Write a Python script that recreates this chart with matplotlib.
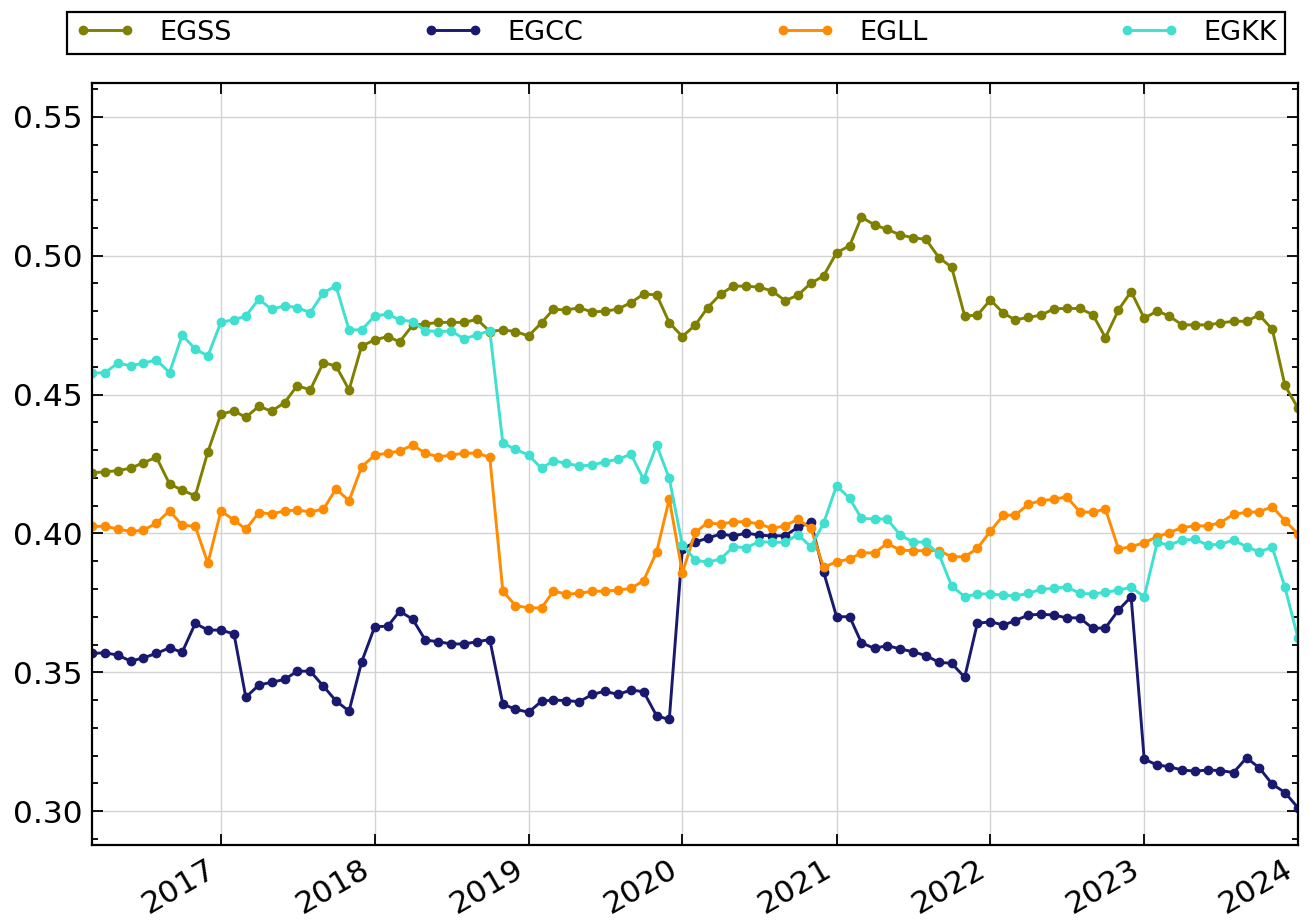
import numpy as np
import pandas as pd
import matplotlib
matplotlib.use("Agg")
import matplotlib.pyplot as plt
import matplotlib.dates as mdates
from matplotlib.ticker import MultipleLocator

# monthly dates, Mar 2016 .. Jan 2024
dates = pd.date_range("2016-03-01", "2024-01-01", freq="MS")

egss = [0.4218, 0.4222, 0.4226, 0.4235, 0.4255, 0.4274, 0.4178, 0.4156, 0.4135, 0.4294,
        0.4430, 0.4441, 0.4418, 0.4458, 0.4440, 0.4471, 0.4532, 0.4517, 0.4615, 0.4603,
        0.4517, 0.4675, 0.4697, 0.4709, 0.4690, 0.4750, 0.4754, 0.4760, 0.4760, 0.4760,
        0.4771, 0.4727, 0.4733, 0.4727, 0.4711, 0.4759, 0.4807, 0.4805, 0.4812, 0.4798,
        0.4800, 0.4808, 0.4831, 0.4862, 0.4859, 0.4759, 0.4709, 0.4751, 0.4813, 0.4862,
        0.4891, 0.4890, 0.4887, 0.4873, 0.4838, 0.4858, 0.4901, 0.4927, 0.5011, 0.5036,
        0.5139, 0.5111, 0.5095, 0.5075, 0.5065, 0.5059, 0.4993, 0.4959, 0.4783, 0.4786,
        0.4841, 0.4793, 0.4769, 0.4778, 0.4786, 0.4809, 0.4810, 0.4810, 0.4788, 0.4705,
        0.4805, 0.4871, 0.4775, 0.4801, 0.4783, 0.4751, 0.4751, 0.4751, 0.4758, 0.4764,
        0.4764, 0.4787, 0.4735, 0.4533, 0.4451]

egcc = [0.3568, 0.3570, 0.3562, 0.3540, 0.3552, 0.3568, 0.3588, 0.3572, 0.3676, 0.3652,
        0.3652, 0.3638, 0.3410, 0.3454, 0.3464, 0.3474, 0.3504, 0.3504, 0.3450, 0.3397,
        0.3360, 0.3538, 0.3664, 0.3666, 0.3720, 0.3691, 0.3616, 0.3610, 0.3602, 0.3602,
        0.3610, 0.3618, 0.3385, 0.3367, 0.3356, 0.3396, 0.3400, 0.3398, 0.3394, 0.3420,
        0.3432, 0.3420, 0.3436, 0.3430, 0.3343, 0.3330, 0.3944, 0.3969, 0.3983, 0.3998,
        0.3991, 0.4001, 0.3994, 0.3991, 0.3992, 0.4022, 0.4040, 0.3862, 0.3700, 0.3700,
        0.3606, 0.3586, 0.3596, 0.3584, 0.3574, 0.3560, 0.3536, 0.3532, 0.3482, 0.3676,
        0.3682, 0.3670, 0.3686, 0.3706, 0.3709, 0.3706, 0.3696, 0.3696, 0.3658, 0.3660,
        0.3724, 0.3772, 0.3187, 0.3166, 0.3160, 0.3148, 0.3144, 0.3148, 0.3146, 0.3139,
        0.3192, 0.3156, 0.3097, 0.3067, 0.3012]

egll = [0.4025, 0.4026, 0.4016, 0.4007, 0.4012, 0.4037, 0.4082, 0.4029, 0.4026, 0.3893,
        0.4081, 0.4048, 0.4015, 0.4075, 0.4070, 0.4081, 0.4084, 0.4078, 0.4087, 0.4160,
        0.4118, 0.4240, 0.4282, 0.4289, 0.4297, 0.4318, 0.4289, 0.4276, 0.4282, 0.4289,
        0.4289, 0.4274, 0.3792, 0.3740, 0.3732, 0.3732, 0.3792, 0.3782, 0.3784, 0.3792,
        0.3792, 0.3796, 0.3802, 0.3830, 0.3934, 0.4124, 0.3859, 0.4004, 0.4039, 0.4033,
        0.4042, 0.4042, 0.4034, 0.4018, 0.4028, 0.4051, 0.4018, 0.3878, 0.3898, 0.3908,
        0.3930, 0.3930, 0.3964, 0.3940, 0.3938, 0.3938, 0.3938, 0.3916, 0.3916, 0.3946,
        0.4008, 0.4066, 0.4066, 0.4105, 0.4118, 0.4123, 0.4132, 0.4078, 0.4076, 0.4088,
        0.3944, 0.3952, 0.3967, 0.3988, 0.4003, 0.4021, 0.4027, 0.4027, 0.4039, 0.4069,
        0.4076, 0.4078, 0.4096, 0.4046, 0.3998]

egkk = [0.4577, 0.4579, 0.4613, 0.4604, 0.4613, 0.4625, 0.4579, 0.4714, 0.4664, 0.4639,
        0.4761, 0.4769, 0.4783, 0.4844, 0.4807, 0.4820, 0.4813, 0.4795, 0.4867, 0.4891,
        0.4733, 0.4733, 0.4783, 0.4790, 0.4769, 0.4763, 0.4730, 0.4727, 0.4729, 0.4701,
        0.4715, 0.4730, 0.4325, 0.4303, 0.4282, 0.4234, 0.4262, 0.4252, 0.4243, 0.4246,
        0.4258, 0.4267, 0.4285, 0.4195, 0.4318, 0.4198, 0.3958, 0.3904, 0.3896, 0.3908,
        0.3952, 0.3949, 0.3970, 0.3968, 0.3968, 0.3996, 0.3952, 0.4036, 0.4172, 0.4126,
        0.4054, 0.4052, 0.4052, 0.3994, 0.3970, 0.3968, 0.3925, 0.3811, 0.3772, 0.3782,
        0.3782, 0.3778, 0.3775, 0.3784, 0.3799, 0.3802, 0.3808, 0.3784, 0.3782, 0.3788,
        0.3796, 0.3806, 0.3772, 0.3968, 0.3958, 0.3976, 0.3979, 0.3958, 0.3961, 0.3976,
        0.3952, 0.3934, 0.3950, 0.3806, 0.3622]

names = ["EGSS", "EGCC", "EGLL", "EGKK"]
colours = ["olive", "midnightblue", "darkorange", "turquoise"]

fig = plt.figure(figsize=(13.1, 9.24), dpi=100)
ax = fig.add_axes([92/1310, 1 - 845/924, (1298-92)/1310, (845-83)/924])

for y, name, c in zip([egss, egcc, egll, egkk], names, colours):
    ax.plot(dates, y, "-o", color=c, lw=2.1, ms=6, label=name)

ax.set_xlim(dates[0], dates[-1])
ax.set_ylim(0.2878, 0.5622)
ax.yaxis.set_major_locator(MultipleLocator(0.05))
ax.yaxis.set_minor_locator(MultipleLocator(0.01))
ax.yaxis.set_major_formatter(matplotlib.ticker.FormatStrFormatter("%.2f"))
ax.xaxis.set_major_locator(mdates.YearLocator())
ax.xaxis.set_major_formatter(mdates.DateFormatter("%Y"))
ax.grid(True, color="#d3d3d3", lw=1)
ax.set_axisbelow(True)
ax.tick_params(which="both", direction="in", right=True, top=True, labelsize=22.5, width=1.3)
ax.tick_params(which="major", length=8, pad=7)
ax.tick_params(which="minor", length=4)
for s in ax.spines.values():
    s.set_linewidth(1.6)
for lab in ax.get_xticklabels():
    lab.set_rotation(30)
    lab.set_ha("right")

leg = fig.legend(loc="lower left", bbox_to_anchor=(67/1310, 1 - 54/924, (1285-67)/1310, 46/924),
                 mode="expand", ncol=4, borderaxespad=0, fontsize=19.5, fancybox=False,
                 edgecolor="black", framealpha=1, numpoints=2, handlelength=2.2,
                 handletextpad=0.9, borderpad=0.3)
leg.get_frame().set_linewidth(1.6)

fig.savefig("out.png", dpi=100)
